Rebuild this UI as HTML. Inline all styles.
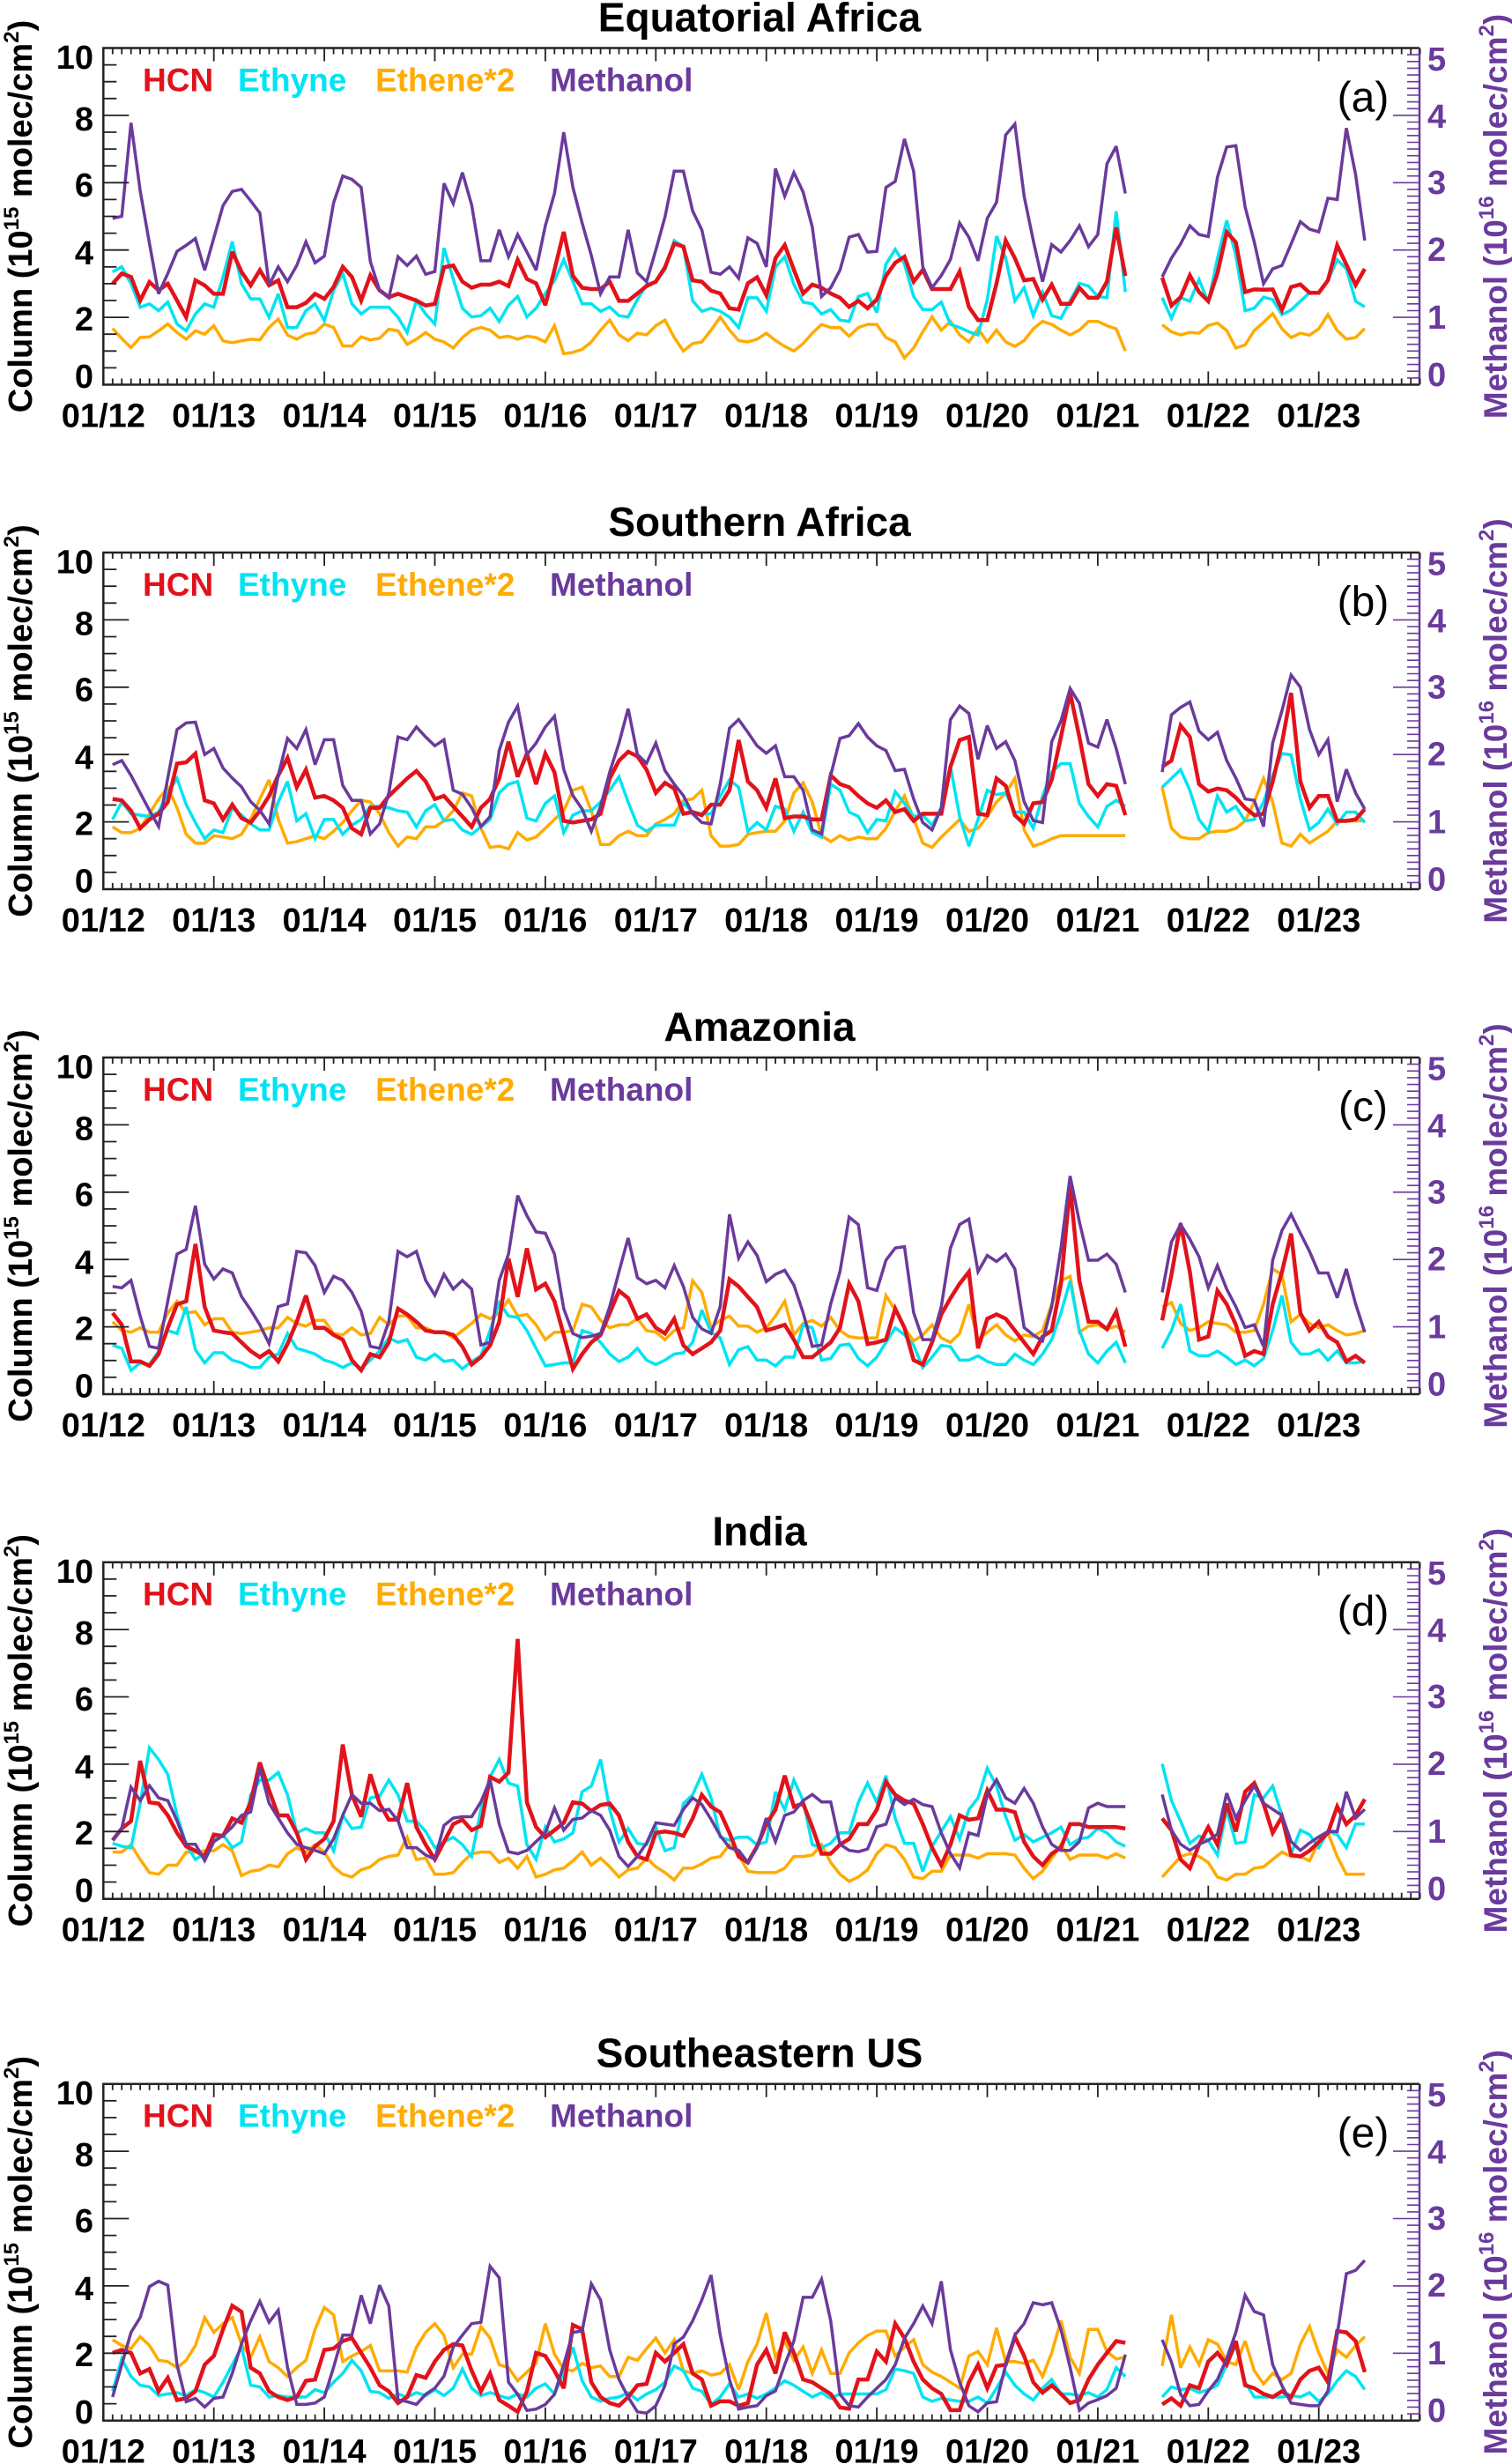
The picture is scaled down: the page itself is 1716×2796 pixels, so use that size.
<!DOCTYPE html>
<html>
<head>
<meta charset="utf-8">
<style>
html,body{margin:0;padding:0;background:#fff;}
svg{display:block;}
text{font-family:"Liberation Sans",Arial,sans-serif;}
</style>
</head>
<body>
<svg id="chart" xmlns="http://www.w3.org/2000/svg" width="1716" height="2796" viewBox="0 0 1716 2796"></svg>
<script>
// ---------------- DATA (monthly, Feb 2012 .. Jun 2023; null = missing) ----------------
const panelTitles = ["Equatorial Africa","Southern Africa","Amazonia","India","Southeastern US"];
const panelLetters = ["(a)","(b)","(c)","(d)","(e)"];
const yTickLabels = ["0","2","4","6","8","10"];
const yTickValues = [0,2,4,6,8,10];
const rTickLabels = ["0","1","2","3","4","5"];
const rTickValues = [0,1,2,3,4,5];
const xTickLabels = ["01/12","01/13","01/14","01/15","01/16","01/17","01/18","01/19","01/20","01/21","01/22","01/23"];
const firstMonth = 1; // months since Jan 2012
const gap = [null,null,null];

// Panel (a) Equatorial Africa
const hcnA = [3.0,3.3,3.2,2.5,3.05,2.8,3.0,2.5,2.0,3.1,2.95,2.7,2.7,3.95,3.35,2.95,3.4,2.95,3.1,2.3,2.3,2.43,2.7,2.55,2.9,3.5,3.2,2.5,3.25,2.8,2.6,2.7,2.6,2.5,2.35,2.4,
3.49,3.54,3.06,2.88,2.97,2.97,3.06,2.93,3.71,3.14,3.01,2.36,3.41,4.54,3.23,2.88,2.84,2.84,3.06,2.49,2.49,2.71,2.93,3.06,3.49,4.19,4.10,3.10,3.06,2.79,2.71,2.27,2.23,3.01,3.19,2.66,3.76,4.15,3.41,2.71,2.97,2.88,2.71,2.58,2.31,2.49,2.27,2.53,3.23,3.62,3.80,3.06,3.41,2.84,2.84,2.84,3.36,2.31,1.92,1.92,3.01,4.28,3.76,3.10,3.14,2.53,2.97,2.40,2.40,2.88,2.58,2.58,3.06,4.67,3.23,
null,null,null,
3.18,2.35,2.6,3.25,2.75,2.48,3.31,4.53,4.23,2.75,2.83,2.82,2.83,2.22,2.9,2.98,2.73,2.73,3.1,4.14,3.57,2.96,3.44];
const ethyneA = [3.35,3.5,3.0,2.3,2.4,2.2,2.45,1.8,1.6,2.1,2.4,2.3,3.2,4.25,3.0,2.55,2.55,2.0,2.7,1.7,1.7,2.2,2.4,1.9,2.8,3.3,2.4,2.1,2.3,2.3,2.3,2.0,1.55,2.5,2.1,1.8,
4.06,3.14,2.27,2.01,2.05,2.27,1.88,2.36,2.62,2.01,2.27,2.71,3.10,3.71,3.06,2.40,2.40,2.18,2.31,2.05,2.01,2.53,2.97,3.06,3.41,4.28,4.10,2.49,2.18,2.27,2.18,2.01,1.70,2.58,2.58,2.18,3.49,3.80,2.97,2.45,2.40,2.10,2.23,1.92,1.88,2.62,2.71,2.14,3.58,4.02,3.58,2.62,2.23,2.23,2.45,1.79,1.70,1.57,1.48,2.53,4.41,3.76,2.49,2.88,2.05,2.75,2.05,1.97,2.49,3.01,2.93,2.62,2.58,5.15,2.75,
null,null,null,
2.58,1.97,2.58,2.48,3.12,2.44,3.75,4.88,3.84,2.2,2.27,2.6,2.53,2.08,2.22,2.48,2.73,2.73,3.1,3.71,3.44,2.48,2.31];
const etheneA = [1.67,1.37,1.1,1.4,1.42,1.6,1.8,1.55,1.35,1.6,1.5,1.75,1.3,1.25,1.3,1.35,1.33,1.7,1.95,1.47,1.35,1.5,1.55,1.8,1.7,1.15,1.15,1.42,1.33,1.38,1.65,1.6,1.2,1.35,1.55,1.35,
1.27,1.09,1.40,1.62,1.70,1.62,1.40,1.44,1.35,1.44,1.40,1.27,1.75,0.92,0.96,1.05,1.27,1.62,1.92,1.48,1.31,1.53,1.48,1.75,1.92,1.40,1.00,1.22,1.27,1.62,2.01,1.62,1.31,1.27,1.35,1.53,1.31,1.14,1.00,1.22,1.53,1.79,1.70,1.70,1.44,1.70,1.79,1.79,1.40,1.27,0.79,1.09,1.57,2.01,1.62,1.88,1.48,1.27,1.66,1.27,1.62,1.27,1.14,1.31,1.66,1.88,1.79,1.62,1.48,1.62,1.88,1.88,1.75,1.66,1.00,
null,null,null,
1.78,1.57,1.48,1.55,1.53,1.76,1.83,1.61,1.09,1.18,1.61,1.85,2.11,1.66,1.4,1.53,1.47,1.66,2.08,1.61,1.35,1.4,1.67];
const methanolA = [2.47,2.5,3.89,2.88,2.1,1.35,1.65,1.98,2.07,2.17,1.7,2.18,2.66,2.87,2.9,2.73,2.55,1.48,1.75,1.53,1.77,2.12,1.81,1.91,2.7,3.1,3.05,2.93,1.83,1.4,1.29,1.9,1.77,1.91,1.64,1.68,
2.99,2.69,3.15,2.67,1.84,1.84,2.3,1.9,2.23,1.97,1.7,2.36,2.84,3.75,2.93,2.4,1.92,1.35,1.6,1.6,2.3,1.66,1.53,2.0,2.49,3.17,3.17,2.58,2.3,1.67,1.64,1.75,1.58,2.18,2.1,1.75,3.21,2.8,3.15,2.86,2.34,1.31,1.44,1.7,2.19,2.23,1.97,1.98,2.93,3.02,3.65,3.17,1.75,1.44,1.62,1.86,2.4,2.19,1.84,2.47,2.71,3.71,3.87,2.8,2.14,1.53,2.08,1.97,2.14,2.36,2.05,2.23,3.28,3.54,2.84,
null,null,null,
1.6,1.88,2.09,2.36,2.23,2.2,3.08,3.53,3.55,2.64,2.12,1.5,1.72,1.77,2.09,2.42,2.31,2.27,2.77,2.75,3.81,3.12,2.14];

// Panel (b) Southern Africa
const hcnB = [2.68,2.64,2.33,1.81,2.07,2.24,2.59,3.73,3.77,4.03,2.64,2.55,2.07,2.51,2.11,1.98,2.33,2.77,3.38,3.9,3.03,3.55,2.72,2.77,2.64,2.42,1.81,1.63,2.42,2.42,2.77,3.03,3.29,3.51,3.2,2.68,2.77,2.46,2.16,1.85,2.42,2.68,3.29,4.38,3.34,4.03,3.12,4.03,3.47,2.03,1.98,2.03,2.07,2.24,3.29,3.82,4.08,3.95,3.55,2.86,3.16,2.99,2.24,2.29,2.2,2.51,2.51,2.94,4.43,3.2,2.94,2.42,3.29,2.11,2.16,2.16,2.07,2.07,3.38,3.12,3.03,2.77,2.55,2.42,2.64,2.29,2.38,2.03,2.24,2.24,2.24,3.64,4.43,4.52,2.24,2.2,3.29,3.07,2.2,1.94,2.55,2.59,3.25,4.52,5.83,4.52,3.12,2.77,3.12,3.07,2.2,
null,null,null,
3.64,3.82,4.86,4.52,3.12,2.9,2.99,2.94,2.72,2.42,2.2,2.24,3.2,4.34,5.83,3.2,2.42,2.77,2.77,2.03,2.03,2.07,2.38];
const ethyneB = [2.07,2.59,2.24,2.2,2.16,2.29,2.86,3.29,2.51,1.98,1.5,1.76,1.68,2.42,2.2,1.94,1.76,1.76,2.59,3.2,2.03,2.24,1.5,2.07,2.07,1.63,1.9,2.07,2.46,2.46,2.42,2.33,2.29,1.85,2.33,2.51,2.03,2.07,1.76,1.63,1.85,2.07,2.86,3.12,3.2,2.11,2.03,2.55,2.77,1.68,2.2,2.33,2.33,2.59,2.94,3.34,2.59,1.9,1.72,1.9,1.9,1.9,2.55,2.29,2.24,2.24,2.77,3.25,3.03,1.72,1.98,1.76,2.46,2.38,1.72,2.29,1.68,1.55,3.12,2.94,2.29,2.16,1.68,2.07,2.03,2.9,2.55,2.16,2.2,1.9,2.42,3.64,2.16,1.28,2.07,2.94,2.81,2.86,2.29,2.29,1.81,2.77,3.47,3.73,3.73,2.55,2.16,1.85,2.46,2.64,2.46,
null,null,null,
3.03,3.29,3.55,2.94,2.07,1.72,2.77,2.29,2.46,2.03,2.07,2.59,3.38,4.03,3.99,2.68,1.76,1.98,2.38,1.94,2.29,2.29,1.98];
const etheneB = [1.85,1.68,1.68,1.81,2.24,2.68,3.03,2.42,1.63,1.37,1.37,1.59,1.55,1.5,1.63,2.07,2.68,3.25,2.07,1.37,1.41,1.5,1.59,1.5,1.72,1.98,2.33,2.64,2.59,2.24,1.68,1.28,1.55,1.5,1.85,1.85,2.03,2.33,2.86,2.77,1.81,1.24,1.28,1.2,1.68,1.46,1.55,1.81,2.07,2.33,2.94,3.03,2.33,1.33,1.33,1.59,1.72,1.59,1.59,1.94,2.07,2.24,2.64,2.68,2.94,1.59,1.28,1.28,1.33,1.63,1.68,1.72,1.72,2.03,2.86,3.16,2.59,1.59,1.41,1.59,1.46,1.55,1.5,1.5,1.81,2.33,2.77,2.11,1.37,1.24,1.55,1.81,2.07,1.72,1.81,2.16,2.59,2.86,3.29,1.76,1.28,1.37,1.5,1.59,1.59,1.59,1.59,1.59,1.59,1.59,1.59,
null,null,null,
3.03,1.81,1.55,1.5,1.5,1.68,1.72,1.72,1.81,2.03,2.59,3.29,2.59,1.37,1.28,1.63,1.37,1.55,1.72,2.03,2.03,2.03,2.03];
const methanolB = [1.85,1.91,1.69,1.43,1.17,0.93,1.65,2.37,2.47,2.48,2.0,2.09,1.8,1.65,1.52,1.3,1.17,0.97,1.69,2.24,2.09,2.37,1.85,2.22,2.22,1.54,1.32,1.32,0.82,0.97,1.43,2.26,2.22,2.41,2.26,2.13,2.22,1.47,1.41,1.21,0.93,1.08,2.06,2.48,2.72,2.0,2.17,2.41,2.57,1.78,1.39,1.19,0.86,1.23,1.74,2.17,2.68,2.0,1.87,2.17,1.76,1.56,1.39,1.12,0.99,0.97,1.56,2.39,2.52,2.33,2.13,2.02,2.13,1.67,1.67,1.47,0.88,0.82,1.69,2.24,2.28,2.46,2.26,2.13,2.06,1.76,1.78,1.34,0.99,0.88,1.21,2.52,2.72,2.61,1.93,2.43,2.09,2.19,1.91,1.3,1.02,0.99,2.19,2.5,2.98,2.76,2.17,2.11,2.52,2.09,1.56,
null,null,null,
1.74,2.59,2.7,2.78,2.35,2.22,2.33,1.91,1.65,1.34,1.32,0.93,2.17,2.65,3.18,3.0,2.37,2.0,2.22,1.3,1.78,1.43,1.19];

// Panel (c) Amazonia
const hcnC = [2.41,2.06,0.97,0.97,0.84,1.19,1.97,2.67,2.76,4.46,2.59,1.89,1.84,1.8,1.54,1.28,1.1,1.28,0.97,1.49,2.15,2.93,1.97,1.97,1.76,1.62,1.01,0.71,1.19,1.1,1.54,2.54,2.37,2.15,1.89,1.84,1.84,1.76,1.41,0.88,1.1,1.45,2.15,4.03,2.89,4.33,3.11,3.28,2.76,1.76,0.75,1.19,1.54,1.76,2.41,3.07,2.85,2.24,2.37,1.97,1.8,2.24,1.45,1.19,1.36,1.54,1.89,3.41,3.2,2.89,2.59,1.89,1.97,2.06,1.62,1.1,1.1,1.32,1.54,1.97,3.28,2.76,1.49,1.54,1.62,2.54,1.97,1.01,0.88,1.54,2.37,2.85,3.28,3.63,1.36,2.24,2.37,2.24,1.89,1.54,1.19,1.71,1.89,3.28,6.17,3.37,2.15,2.15,1.93,2.45,1.41,
null,null,null,
2.19,3.55,5.07,3.63,1.62,1.71,3.07,2.67,2.06,1.14,1.28,1.19,2.67,3.63,4.77,2.41,1.89,2.15,1.71,1.54,0.97,1.14,0.93];
const ethyneC = [1.45,1.36,0.71,0.93,0.88,1.28,1.89,1.8,2.59,1.32,0.93,1.23,1.23,1.01,0.93,0.79,0.79,1.1,1.19,1.8,1.36,1.28,1.19,1.01,0.93,0.79,0.93,0.75,1.01,1.28,1.67,1.54,1.62,1.1,1.01,1.19,0.97,1.01,0.75,0.97,1.14,1.89,2.72,2.32,2.28,1.89,1.36,0.84,0.88,0.93,0.93,1.89,1.8,1.54,1.19,0.97,1.1,1.36,1.01,0.88,1.01,1.19,1.23,1.54,2.5,1.84,1.67,0.88,1.32,1.41,1.01,1.01,0.84,1.1,1.1,2.06,1.97,1.01,1.06,1.45,1.49,1.06,0.84,1.1,1.54,1.97,1.76,1.45,0.79,1.1,1.45,1.41,1.01,1.01,1.14,0.97,0.88,0.88,1.19,1.01,0.88,1.19,1.62,2.41,3.37,1.89,1.19,0.93,1.28,1.54,0.93,
null,null,null,
1.36,1.89,2.67,1.28,1.14,1.14,1.28,1.1,0.88,1.01,0.84,1.06,1.89,2.93,1.54,1.19,1.19,1.32,1.01,1.28,0.93,0.93,0.97];
const etheneC = [2.15,1.89,1.84,1.97,1.84,1.84,2.41,2.76,2.41,2.45,2.06,2.24,2.24,1.84,1.8,1.84,1.89,1.97,1.97,2.28,2.1,2.02,2.19,2.19,1.8,1.76,1.97,1.76,1.8,2.28,2.06,2.32,2.32,1.97,1.97,1.84,1.84,1.67,1.89,2.1,2.37,2.24,2.41,2.8,2.32,2.37,2.06,1.62,1.84,1.84,1.89,2.67,2.59,2.19,1.97,2.06,2.06,2.24,1.89,1.84,1.62,1.89,1.97,3.37,3.02,1.97,2.19,2.32,2.02,2.02,1.84,1.97,2.32,2.76,1.76,2.1,2.19,2.02,2.28,1.89,1.71,1.67,1.67,1.67,2.93,2.5,1.97,1.58,1.76,2.06,1.67,1.54,1.8,2.67,1.62,1.84,2.06,1.76,1.58,1.76,1.71,1.89,2.67,3.37,3.5,1.84,2.02,2.06,1.93,2.02,1.84,
null,null,null,
2.59,2.72,2.1,1.89,1.97,2.15,2.1,2.06,1.84,1.84,1.89,2.67,3.72,3.55,2.15,2.37,2.1,1.97,2.06,1.89,1.76,1.8,1.89];
const methanolC = [1.6,1.58,1.69,1.16,0.71,0.68,1.38,2.08,2.15,2.8,1.93,1.71,1.86,1.8,1.45,1.25,1.03,0.75,1.3,1.34,2.12,2.1,1.91,1.51,1.75,1.69,1.51,1.23,0.71,0.68,1.08,2.12,2.04,2.12,1.69,1.47,1.78,1.56,1.69,1.56,0.73,0.77,1.69,2.08,2.95,2.65,2.41,2.39,2.08,1.27,0.9,0.84,0.86,0.9,1.3,1.82,2.32,1.73,1.64,1.69,1.58,1.91,1.6,1.14,0.97,0.9,1.3,2.67,2.02,2.26,2.06,1.67,1.78,1.84,1.62,1.21,0.71,0.73,1.34,1.82,2.63,2.52,1.58,1.54,1.99,2.17,2.19,1.21,0.81,0.81,1.3,2.17,2.52,2.6,1.82,2.06,1.97,2.08,1.86,0.99,0.88,0.79,1.3,2.17,3.24,2.56,1.99,1.99,2.08,1.93,1.51,
null,null,null,
1.51,2.26,2.52,2.3,2.04,1.58,1.91,1.56,1.3,0.99,1.03,0.71,1.99,2.43,2.67,2.39,2.12,1.8,1.8,1.43,1.86,1.34,0.92];

// Panel (d) India
const hcnD = [1.74,2.09,2.31,4.1,2.87,2.83,2.48,1.96,1.56,1.43,1.26,1.91,1.87,2.39,2.26,2.87,4.05,3.22,2.48,2.48,1.96,1.17,1.56,1.78,2.31,4.58,3.09,2.44,3.7,2.83,2.35,2.35,3.44,2.13,1.61,1.17,1.69,2.22,2.35,2.04,2.17,3.62,3.48,3.75,7.72,2.87,2.13,1.83,2.04,2.26,2.87,2.83,2.61,2.79,2.83,2.48,1.69,1.26,1.17,1.96,2.0,1.96,1.87,2.39,3.09,2.74,2.57,1.96,1.26,1.08,1.56,2.22,2.65,3.66,2.74,2.83,2.13,1.34,1.34,1.61,1.78,2.22,2.22,2.65,3.48,3.09,2.92,2.83,2.22,1.52,1.0,1.61,2.48,2.35,2.39,3.22,2.65,2.65,2.57,1.69,1.26,1.0,1.34,1.52,2.22,2.22,2.13,2.13,2.13,2.13,2.09,
null,null,null,
2.39,2.04,1.17,0.91,1.61,2.13,1.61,2.83,2.0,3.18,3.44,2.83,1.96,2.44,1.3,1.26,1.43,1.69,1.96,2.74,2.22,2.48,2.96];
const ethyneD = [1.65,1.56,1.52,2.83,4.49,4.14,3.7,2.48,1.61,1.17,1.34,1.78,1.91,1.52,1.69,3.09,3.53,3.53,3.75,3.09,1.96,2.09,1.96,1.96,1.43,2.48,2.09,2.13,3.0,3.05,3.53,3.09,2.31,2.31,2.0,1.52,1.69,1.83,1.61,1.26,2.65,3.62,4.14,3.44,3.35,1.61,1.17,2.13,1.69,1.78,1.96,3.18,3.35,4.14,2.65,1.69,2.09,1.65,1.61,2.13,1.43,1.52,2.83,3.09,3.7,3.0,1.83,1.74,1.83,1.83,1.61,1.69,3.18,2.65,3.53,2.92,1.61,1.52,1.65,1.96,1.96,2.87,3.44,2.87,3.66,2.39,1.65,1.65,0.82,1.56,2.0,2.44,1.78,2.65,3.0,3.88,3.35,2.44,1.74,1.91,1.69,1.83,1.96,2.13,1.61,1.78,1.83,2.09,1.96,1.69,1.56,
null,null,null,
4.01,2.92,2.31,1.65,1.87,1.74,1.3,2.65,1.65,1.69,3.09,3.0,3.35,2.48,1.34,2.04,1.91,1.52,2.0,1.91,1.52,2.22,2.22];
const etheneD = [1.39,1.39,1.61,1.17,0.78,0.73,1.0,1.0,1.39,1.39,1.43,1.43,1.61,1.43,0.69,0.82,0.86,1.0,0.95,1.34,1.52,1.39,1.61,1.39,0.95,0.73,0.65,0.86,0.95,1.17,1.26,1.3,1.83,1.17,1.21,0.73,0.73,0.78,1.08,1.34,1.39,1.39,1.08,1.21,0.91,1.26,0.65,0.73,0.86,0.91,1.13,1.39,1.0,1.21,0.95,0.65,0.86,0.91,1.21,0.95,0.78,0.56,0.91,0.91,1.04,1.21,1.26,1.61,1.3,0.82,0.78,0.78,0.78,0.91,1.26,1.26,1.3,1.61,1.08,0.73,0.52,0.65,0.86,1.34,1.61,1.52,1.17,0.65,0.6,0.82,0.82,1.3,1.3,1.3,1.21,1.34,1.34,1.34,1.3,0.91,0.6,0.82,1.21,1.61,1.17,1.3,1.3,1.3,1.21,1.34,1.21,
null,null,null,
0.65,0.95,1.26,1.34,1.26,1.08,0.65,0.56,0.73,0.73,0.91,0.95,1.17,1.39,1.26,1.26,1.13,1.69,1.96,1.26,0.73,0.73,0.73];
const methanolD = [0.87,1.05,1.66,1.46,1.68,1.5,1.46,1.16,0.81,0.81,0.57,0.85,0.94,1.07,1.24,1.29,1.94,1.42,1.2,0.98,0.81,0.76,0.72,0.67,0.89,1.24,1.55,1.42,1.42,1.31,1.33,1.16,0.76,0.76,0.65,0.59,1.09,1.2,1.22,1.22,1.44,1.77,1.11,0.7,0.67,0.72,0.85,0.98,1.35,1.02,1.18,1.2,1.31,1.24,1.02,0.63,0.48,0.63,0.83,1.13,1.11,1.09,1.33,1.5,1.4,1.18,0.94,0.76,0.72,0.54,0.76,1.2,0.85,1.24,1.29,1.46,1.55,1.44,1.44,0.81,0.72,0.7,0.74,1.07,1.11,1.5,1.4,1.48,1.4,1.37,0.98,0.67,0.46,0.98,0.94,1.55,1.77,1.5,1.42,1.64,1.42,1.07,0.81,0.72,0.72,0.85,1.35,1.42,1.37,1.37,1.37,
null,null,null,
1.55,1.02,0.81,0.72,0.81,0.87,0.96,1.57,1.2,1.46,1.68,1.42,1.33,1.24,0.85,0.72,0.83,0.92,1.0,1.0,1.59,1.2,1.33];

// Panel (e) Southeastern US
const hcnE = [2.01,2.10,2.01,1.40,1.53,0.87,1.27,0.61,0.66,0.87,1.66,1.92,2.71,3.41,3.23,1.57,1.40,0.87,0.70,0.61,0.70,1.18,1.22,2.10,2.14,2.36,2.45,2.01,1.57,1.05,0.87,0.52,0.70,1.35,1.27,1.75,2.10,2.27,2.23,1.48,0.87,1.40,0.61,0.44,0.26,0.87,2.01,1.92,1.48,0.96,2.84,2.71,1.14,0.70,0.52,0.44,0.70,1.05,1.09,2.01,1.75,2.01,2.27,1.40,1.22,0.44,0.57,0.57,0.44,0.52,1.66,2.10,1.40,2.62,2.01,1.22,1.14,0.96,0.79,0.39,0.35,1.22,1.22,2.05,1.75,2.88,2.45,1.75,1.22,0.96,0.79,0.31,0.31,1.14,1.66,0.96,1.62,1.66,2.49,1.92,1.14,0.83,1.05,0.79,0.52,0.61,1.22,1.66,2.01,2.36,2.31,
null,null,null,
0.48,0.66,0.44,1.05,0.96,1.75,2.01,1.66,2.36,1.05,0.96,0.79,0.70,0.87,0.70,1.22,1.48,1.57,1.14,2.66,2.62,2.36,1.44];
const ethyneE = [0.87,1.83,1.31,1.05,1.00,0.74,0.79,0.83,0.74,0.92,0.83,0.70,1.14,1.66,2.18,1.05,1.00,0.70,0.74,0.70,0.70,0.70,0.92,0.83,1.14,1.40,1.79,1.48,0.87,0.83,0.66,0.79,0.70,0.83,0.74,0.92,0.74,0.96,1.53,0.96,0.74,0.83,0.74,0.66,0.79,0.70,0.96,1.09,0.79,1.40,2.18,1.18,0.70,0.57,0.66,0.70,0.83,0.61,0.79,0.92,1.14,1.62,1.48,0.96,0.87,0.48,0.70,1.09,0.70,0.79,0.66,0.79,0.96,1.18,1.05,0.87,0.70,0.83,0.66,0.79,0.79,0.79,0.79,0.79,0.92,1.53,1.48,1.40,0.70,0.57,0.66,0.61,0.57,0.57,0.70,0.52,0.96,1.44,1.05,0.79,0.61,0.96,1.22,0.79,0.79,0.74,0.83,0.70,0.92,1.57,1.31,
null,null,null,
0.70,1.00,0.92,0.96,0.83,0.92,1.05,1.66,2.23,1.14,0.70,0.70,0.70,0.70,0.74,0.70,0.83,0.57,0.79,1.18,1.48,1.31,0.92];
const etheneE = [2.40,2.23,2.14,2.49,2.23,1.79,1.75,1.57,1.79,2.23,3.06,2.62,2.88,3.06,2.27,1.88,2.49,1.75,1.57,1.31,1.57,1.79,2.71,3.36,3.14,1.75,1.92,2.05,2.23,1.48,1.48,1.48,1.44,2.18,2.62,2.88,2.53,1.57,1.97,1.97,2.79,2.45,1.66,1.57,1.18,1.44,1.70,2.88,1.97,1.53,1.48,1.70,1.57,1.62,1.31,1.31,1.88,1.79,2.14,2.45,2.01,2.40,1.48,1.40,1.48,1.35,1.40,1.66,0.92,1.75,2.27,3.19,1.88,2.36,1.79,2.18,1.40,2.10,1.40,1.40,2.01,2.31,2.53,2.66,2.66,1.92,2.18,2.40,1.66,1.44,1.31,1.14,0.96,1.92,2.05,1.66,2.75,1.75,1.75,1.70,1.79,1.31,2.01,2.97,1.88,1.40,2.71,2.71,2.05,1.83,1.88,
null,null,null,
1.62,3.14,1.57,2.18,1.66,2.40,2.27,1.75,1.66,2.36,1.48,1.09,1.40,1.22,1.40,2.27,2.79,2.01,1.40,2.10,1.88,2.23,2.49];
const methanolE = [0.35,0.83,1.31,1.53,1.99,2.07,2.01,0.83,0.28,0.33,0.20,0.33,0.35,0.70,1.14,1.48,1.77,1.46,1.64,0.79,0.24,0.24,0.26,0.35,0.79,1.27,1.27,1.86,1.44,2.01,1.70,0.31,0.28,0.24,0.39,0.48,0.66,1.09,1.27,1.44,1.46,2.29,2.12,0.57,0.39,0.15,0.17,0.24,0.39,0.83,1.31,1.33,2.03,1.79,1.05,0.61,0.35,0.13,0.11,0.22,0.52,1.14,1.24,1.48,1.79,2.16,1.27,0.61,0.17,0.20,0.22,0.37,0.44,0.83,1.18,1.83,1.83,2.10,1.48,0.39,0.22,0.20,0.35,0.48,0.61,0.83,1.22,1.44,1.70,1.44,2.07,1.05,0.57,0.22,0.13,0.26,0.28,0.83,1.27,1.44,1.75,1.72,1.75,1.35,0.79,0.15,0.26,0.31,0.37,0.48,0.98,
null,null,null,
1.20,0.87,0.39,0.22,0.24,0.44,0.61,0.92,1.31,1.86,1.62,1.57,0.83,0.52,0.26,0.24,0.22,0.22,0.44,1.27,2.18,2.23,2.38];

const hcnSeries = [hcnA,hcnB,hcnC,hcnD,hcnE];
const ethyneSeries = [ethyneA,ethyneB,ethyneC,ethyneD,ethyneE];
const etheneSeries = [etheneA,etheneB,etheneC,etheneD,etheneE];
const methanolSeries = [methanolA,methanolB,methanolC,methanolD,methanolE];

// ---------------- LAYOUT ----------------
const NS = "http://www.w3.org/2000/svg";
const svg = document.getElementById("chart");
const panelTops = [54.5, 627, 1200, 1772.7, 2364.7];
const PL = 117.3, PR = 1611, PH = 382;
const monthW = 10.45;
const COL = {hcn:"#e2121b", ethyne:"#00e4f2", ethene:"#ffab00", methanol:"#6a3a9c", axis:"#222"};
const yLabelOffsets = [372.5, 307.5, 232.5, 155.5, 80.5, 10.5];
const rLabelOffsets = [370.5, 305.5, 228.5, 152.5, 77.5, 12.5];

function xScale(month){ return PL + month*monthW; }
function yLeft(top, v){ return top + PH - v*(PH/10); }
function yRight(top, v){ return top + PH - v*(PH/5); }

function mk(tag, attrs, parent){
  const el = document.createElementNS(NS, tag);
  for (const k in attrs) el.setAttribute(k, attrs[k]);
  (parent||svg).appendChild(el);
  return el;
}

function drawSeries(g, top, values, scaleFn, color, width, name){
  let segs = [], cur = [];
  values.forEach((v,i)=>{
    if (v === null || v === undefined){ if(cur.length) segs.push(cur); cur=[]; return; }
    cur.push(xScale(firstMonth+i).toFixed(1)+","+scaleFn(top,v).toFixed(1));
  });
  if (cur.length) segs.push(cur);
  segs.forEach((s,si)=>{
    const pl = mk("polyline",{points:s.join(" "),fill:"none",stroke:color,"stroke-width":width,"stroke-linejoin":"miter","stroke-miterlimit":"3"},g);
    
    
  });
}

panelTops.forEach((top,p)=>{
  const g = mk("g",{});
  
  
  const bottom = top + PH;

  // title
  const t = mk("text",{x:862,y:top-19,"text-anchor":"middle","font-size":"46","font-weight":"bold",fill:"#000"},g);
  t.textContent = panelTitles[p];
  
  

  // series (draw under frame)
  const sg = mk("g",{},g);
  
  
  drawSeries(sg, top, etheneSeries[p], yLeft, COL.ethene, 3.5, 'ethene');
  drawSeries(sg, top, ethyneSeries[p], yLeft, COL.ethyne, 3.5, 'ethyne');
  drawSeries(sg, top, hcnSeries[p], yLeft, COL.hcn, 4.5, 'hcn');
  drawSeries(sg, top, methanolSeries[p], yRight, COL.methanol, 3.5, 'methanol');

  // frame
  const fl = mk("path",{d:`M${PR},${bottom} L${PL},${bottom} L${PL},${top} L${PR},${top}`,fill:"none",stroke:COL.axis,"stroke-width":"2.5"},g);
  
  
  const fr = mk("line",{x1:PR,y1:top,x2:PR,y2:bottom,stroke:COL.methanol,"stroke-width":"2.5"},g);
  
  

  // x ticks (monthly minor, yearly major), top and bottom
  let d = "";
  for (let m=0; m<=143; m++){
    const x = xScale(m).toFixed(1);
    const len = (m%12===0) ? 15 : 7;
    d += `M${x},${bottom} v${-len} M${x},${top} v${len} `;
  }
  const xt = mk("path",{d:d,stroke:COL.axis,"stroke-width":"1.8",fill:"none"},g);
  
  

  // left ticks every 0.5 unit, major at even values
  d = "";
  for (let k=1; k<20; k++){
    const v = k*0.5, y = yLeft(top,v).toFixed(1);
    const len = (k%4===0) ? 29 : 15;
    d += `M${PL},${y} h${len} `;
  }
  const lt = mk("path",{d:d,stroke:COL.axis,"stroke-width":"1.8",fill:"none"},g);
  
  

  // right ticks every 0.1, major at integers
  d = "";
  for (let k=1; k<50; k++){
    const y = yRight(top,k*0.1).toFixed(1);
    const len = (k%10===0) ? 30 : 14;
    d += `M${PR},${y} h${-len} `;
  }
  const rt = mk("path",{d:d,stroke:COL.methanol,"stroke-width":"1.6",fill:"none"},g);
  
  

  // left tick labels
  yTickLabels.forEach((lab,i)=>{
    const tx = mk("text",{x:106,y:top+yLabelOffsets[i]+13,"text-anchor":"end","font-size":"38","font-weight":"bold",fill:"#000"},g);
    tx.textContent = lab;
    
    
  });
  // right tick labels
  rTickLabels.forEach((lab,i)=>{
    const tx = mk("text",{x:1620,y:top+rLabelOffsets[i]+13,"text-anchor":"start","font-size":"38","font-weight":"bold",fill:COL.methanol},g);
    tx.textContent = lab;
    
    
  });
  // x tick labels
  xTickLabels.forEach((lab,i)=>{
    const tx = mk("text",{x:xScale(i*12),y:bottom+48,"text-anchor":"middle","font-size":"38","font-weight":"bold",fill:"#000"},g);
    tx.textContent = lab;
    
    
  });

  // left axis title
  const cy = top + PH/2;
  const lt2 = mk("text",{x:0,y:0,transform:`translate(36,${cy}) rotate(-90)`,"text-anchor":"middle","font-size":"38","font-weight":"bold",fill:"#000"},g);
  lt2.innerHTML = 'Column (10<tspan font-size="24" dy="-15">15</tspan><tspan dy="15"> molec/cm</tspan><tspan font-size="24" dy="-15">2</tspan><tspan dy="15">)</tspan>';
  
  

  // right axis title
  const rt2 = mk("text",{x:0,y:0,transform:`translate(1710,${cy}) rotate(-90)`,"text-anchor":"middle","font-size":"37","font-weight":"bold",fill:COL.methanol},g);
  rt2.innerHTML = 'Methanol (10<tspan font-size="24" dy="-15">16</tspan><tspan dy="15"> molec/cm</tspan><tspan font-size="24" dy="-15">2</tspan><tspan dy="15">)</tspan>';
  
  

  // legend
  const lg = mk("g",{},g);
  
  
  const legItems = [["HCN",162,COL.hcn],["Ethyne",270,COL.ethyne],["Ethene*2",426,COL.ethene],["Methanol",624,COL.methanol]];
  legItems.forEach(it=>{
    const tx = mk("text",{x:it[1],y:top+49,"font-size":"37","font-weight":"bold",fill:it[2]},lg);
    tx.textContent = it[0];
    
    
  });

  // panel letter
  const pt = mk("text",{x:1547,y:top+72,"text-anchor":"middle","font-size":"48",fill:"#000"},g);
  pt.textContent = panelLetters[p];
  
  
});
</script>
</body>
</html>
